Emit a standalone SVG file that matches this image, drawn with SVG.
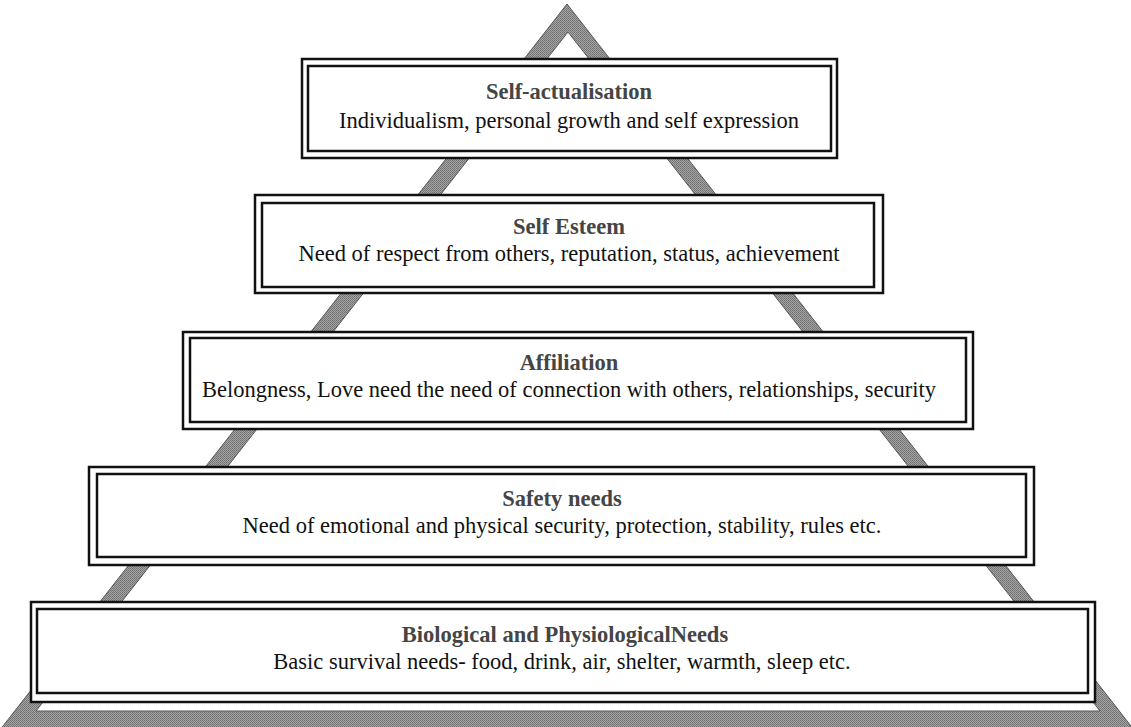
<svg xmlns="http://www.w3.org/2000/svg" width="1131" height="727" viewBox="0 0 1131 727">
  <defs>
    <!-- dithered grey fill for the pyramid frame -->
    <pattern id="dither" width="2" height="2" patternUnits="userSpaceOnUse">
      <rect width="2" height="2" fill="#a4a4a4"/>
      <rect x="0" y="0" width="1" height="1" fill="#707070"/>
      <rect x="1" y="1" width="1" height="1" fill="#7a7a7a"/>
    </pattern>
    <style>
      .outer { fill: #fff; stroke: #111; stroke-width: 2.5; }
      .inner { fill: none; stroke: #111; stroke-width: 2.5; }
      .title { font-family: "Liberation Serif", "Times New Roman", serif; font-weight: bold; font-size: 22.5px; fill: #454545; text-anchor: middle; }
      .body { font-family: "Liberation Serif", "Times New Roman", serif; font-size: 22.5px; fill: #111; text-anchor: middle; }
    </style>
  </defs>

  <rect width="1131" height="727" fill="#fff"/>

  <!-- pyramid frame: outer triangle minus inner triangle -->
  <path d="M567,4 L-4,735 L1138,735 Z M568,32 L36,711 L1100,711 Z"
        fill="url(#dither)" fill-rule="evenodd" stroke="#555" stroke-width="1"/>

  <g id="level-self-actualisation">
    <rect class="outer" x="302" y="59" width="535" height="99"/>
    <rect class="inner" x="308" y="66" width="523" height="85"/>
    <text class="title" x="569" y="99">Self-actualisation</text>
    <text class="body" x="569" y="128">Individualism, personal growth and self expression</text>
  </g>

  <g id="level-self-esteem">
    <rect class="outer" x="255" y="195" width="628" height="98"/>
    <rect class="inner" x="262" y="203" width="612" height="84"/>
    <text class="title" x="569" y="234">Self Esteem</text>
    <text class="body" x="569" y="261">Need of respect from others, reputation, status, achievement</text>
  </g>

  <g id="level-affiliation">
    <rect class="outer" x="183" y="332" width="790" height="97"/>
    <rect class="inner" x="190" y="338" width="776" height="84"/>
    <text class="title" x="569" y="370">Affiliation</text>
    <text class="body" x="569" y="397">Belongness, Love need the need of connection with others, relationships, security</text>
  </g>

  <g id="level-safety">
    <rect class="outer" x="89" y="467" width="945" height="98"/>
    <rect class="inner" x="97" y="474" width="929" height="83"/>
    <text class="title" x="562" y="506">Safety needs</text>
    <text class="body" x="562" y="533">Need of emotional and physical security, protection, stability, rules etc.</text>
  </g>

  <g id="level-biological">
    <rect class="outer" x="31" y="602" width="1064" height="100"/>
    <rect class="inner" x="37" y="609" width="1051" height="84"/>
    <text class="title" x="565" y="642">Biological and PhysiologicalNeeds</text>
    <text class="body" x="562" y="669">Basic survival needs- food, drink, air, shelter, warmth, sleep etc.</text>
  </g>
</svg>
